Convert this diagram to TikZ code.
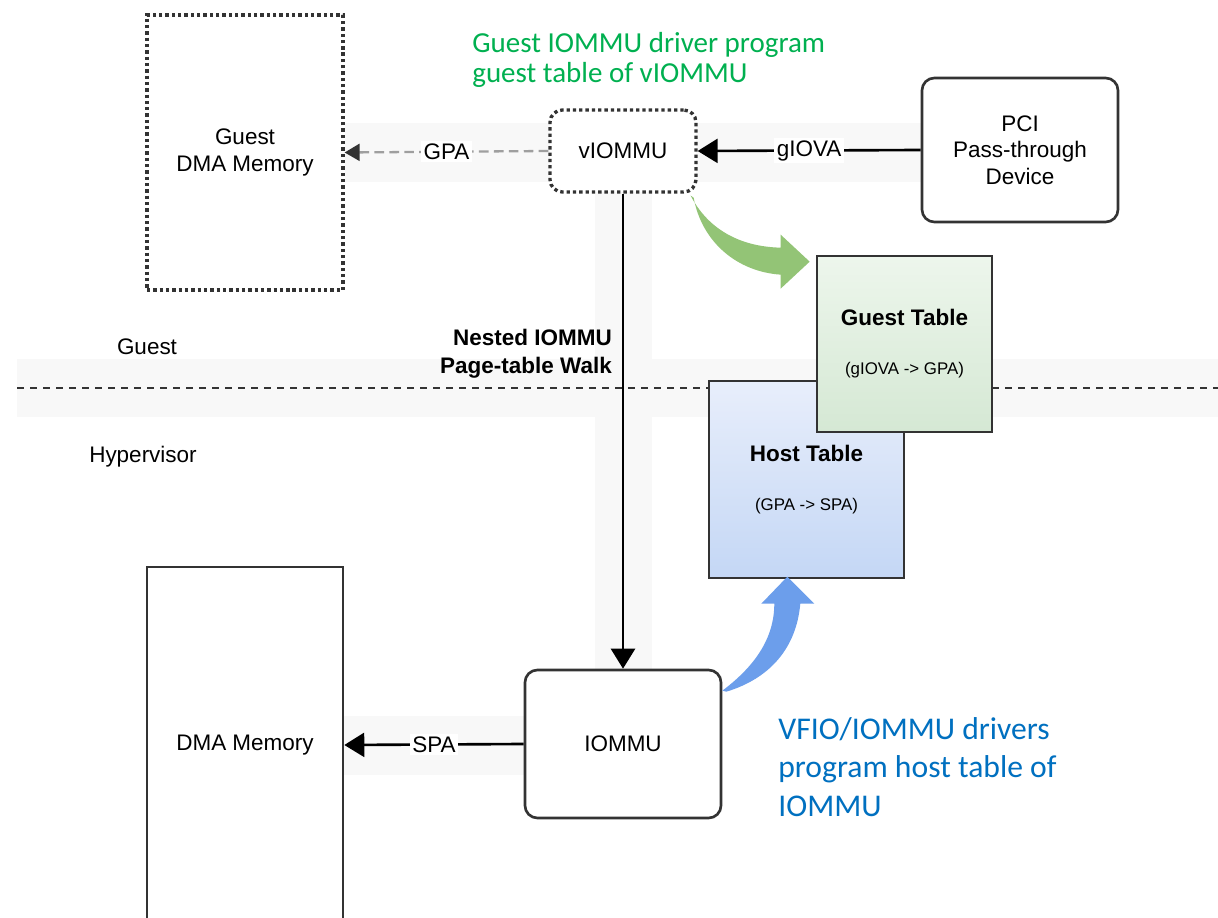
\documentclass[tikz,border=0pt]{standalone}
\usepackage{fontspec}
\setmainfont{Liberation Sans}
\newfontfamily\notefont{Carlito}
\usepackage{xcolor}
\usetikzlibrary{arrows.meta,positioning,calc}
\definecolor{boxline}{HTML}{333333}
\definecolor{bandgray}{HTML}{F8F8F8}
\definecolor{notegreen}{HTML}{00B050}
\definecolor{noteblue}{HTML}{0070C0}
\definecolor{greenarr}{HTML}{93C476}
\definecolor{bluearr}{HTML}{6C9EEB}
\definecolor{gtabtop}{HTML}{EDF6EC}
\definecolor{gtabbot}{HTML}{D5E8D4}
\definecolor{htabtop}{HTML}{E8EEFB}
\definecolor{htabbot}{HTML}{C4D7F5}

\begin{document}
\begin{tikzpicture}[
    x=0.02cm, y=-0.02cm,
    every node/.style={font=\fontsize{12.8}{15}\selectfont},
    box/.style={rectangle, draw=boxline, line width=1.5pt, fill=white, align=center, inner sep=0pt},
    rbox/.style={box, rounded corners=7pt},
    dotbox/.style={box, line width=1.9pt, dash pattern=on 1.9pt off 1.7pt},
    tabbox/.style={box, font=\fontsize{12.8}{15}\selectfont\bfseries},
    arrow/.style={line width=1.5pt, -{Triangle[length=0.4cm, width=0.48cm]}},
    dasharrow/.style={line width=1.3pt, draw=gray!75, dash pattern=on 5.5pt off 3pt, -{Triangle[length=0.3cm, width=0.34cm, color=boxline]}},
    lbl/.style={fill=white, inner sep=1.5pt},
    band/.style={fill=bandgray},
    note/.style={anchor=west, align=left, inner sep=0pt},
]
    \useasboundingbox (0,0) rectangle (1218,918);
    \fill[white] (0,0) rectangle (1218,918);
    \clip (0,0) rectangle (1218,918);

    % light bands behind the paths
    \fill[band] (345,123) rectangle (922,182);
    \fill[band] (595,182) rectangle (652,670);
    \fill[band] (17,359) rectangle (1218,417);
    \fill[band] (343,716) rectangle (527,775);

    % guest / hypervisor split
    \coordinate (sepL) at (17,388);
    \coordinate (sepR) at (1218,388);
    \draw[boxline, line width=0.9pt, dash pattern=on 4pt off 3.4pt] (sepL) -- (sepR);
    \node (guestlbl) at (147,347) {Guest};
    \node (hyplbl) at (143,457) {Hypervisor};

    % guest side
    \node[dotbox, minimum width=3.92cm, minimum height=5.5cm] (gmem) at (245,152.5) {Guest\\DMA Memory};
    \node[dotbox, rounded corners=7pt, minimum width=2.92cm, minimum height=1.64cm] (viommu) at (623,151) {vIOMMU};
    \node[rbox, minimum width=3.92cm, minimum height=2.88cm] (pci) at (1020,150) {PCI\\Pass-through\\Device};

    % hypervisor side
    \node[box, minimum width=3.92cm, minimum height=7.12cm] (dmamem) at (245,745) {DMA Memory};
    \node[rbox, minimum width=3.92cm, minimum height=2.96cm] (iommu) at (623,744) {IOMMU};

    % page tables
    \node[tabbox, top color=htabtop, bottom color=htabbot, minimum width=3.9cm, minimum height=3.94cm] (hosttab) at (806.5,479.5) {Host Table\\[13pt]{\mdseries\fontsize{9.6}{11}\selectfont (GPA -> SPA)}};
    \node[tabbox, top color=gtabtop, bottom color=gtabbot, minimum width=3.5cm, minimum height=3.52cm] (guesttab) at (904.5,344) {Guest Table\\[13pt]{\mdseries\fontsize{9.6}{11}\selectfont (gIOVA -> GPA)}};

    % address flow
    \draw[arrow] (pci.west) -- node[lbl] {gIOVA} (viommu.east);
    \draw[dasharrow] (viommu.west) -- node[lbl] {GPA} (gmem.east);
    \draw[arrow] (viommu.south) -- (iommu.north);
    \draw[arrow] (iommu.west) -- node[lbl] {SPA} (dmamem.east);
    \node[anchor=east, align=right, font=\fontsize{12.8}{16}\selectfont\bfseries] (walk) at (618,354) {Nested IOMMU\\Page-table Walk};

    % programming arrows
    \begin{scope}[shift={($(viommu.south east)+(-7,2)$)}]
        \fill[greenarr] (0,0) .. controls (16,31) and (46,51) .. (90,52) -- (90,39) -- (119,66) -- (90,93) -- (90,79) .. controls (46,76) and (11,46) .. (3,2) -- cycle;
    \end{scope}
    \begin{scope}[shift={($(iommu.north east)+(0,22)$)}]
        \fill[bluearr] (0,0) .. controls (32,-24) and (52,-52) .. (52,-87) -- (39,-87) -- (65,-114) -- (92,-87) -- (78,-87) .. controls (74,-42) and (47,-12) .. (4,1) -- cycle;
    \end{scope}

    % notes
    \node[note, text=notegreen, font=\notefont\fontsize{16.5}{17}\selectfont] (gnote) at (472,60) {Guest IOMMU driver program\\guest table of vIOMMU};
    \node[note, text=noteblue, font=\notefont\fontsize{18}{22}\selectfont] (hnote) at (778,767) {VFIO/IOMMU drivers\\program host table of\\IOMMU};
\end{tikzpicture}
\end{document}
